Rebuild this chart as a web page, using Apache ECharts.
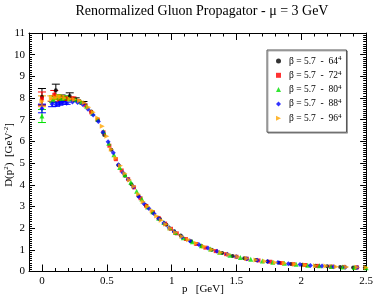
<!DOCTYPE html>
<html><head><meta charset="utf-8">
<script src="https://cdn.jsdelivr.net/npm/echarts@6/dist/echarts.min.js"></script>
<style>html,body{margin:0;padding:0;background:#fff}#c{width:376px;height:295px}</style>
</head><body><div id="c"></div>
<script>
// ---- data ----
const seriesNames = ['β = 5.7  -  64', 'β = 5.7  -  72', 'β = 5.7  -  80', 'β = 5.7  -  88', 'β = 5.7  -  96'];
const xTickLabels = [0, 0.5, 1, 1.5, 2, 2.5];
const yTickLabels = [0,1,2,3,4,5,6,7,8,9,10,11];

const s64 = [[0,8.06],[0.107,8.36],[0.151,8.02],[0.185,7.98],[0.214,8.09],[0.26,7.93],[0.32,7.78],[0.38,7.38],[0.43,6.98],[0.48,6.30],[0.535,5.62],[0.59,4.90],[0.64,4.42],[0.69,4.02],[0.745,3.48],[0.80,3.06],[0.855,2.72],[0.91,2.42],[0.96,2.16],[1.02,1.86],[1.07,1.66],[1.15,1.39],[1.23,1.18],[1.31,1.00],[1.39,0.85],[1.47,0.72],[1.56,0.61],[1.65,0.53],[1.74,0.46],[1.83,0.40],[1.92,0.35],[2.01,0.31],[2.11,0.27],[2.20,0.24],[2.30,0.21],[2.40,0.19],[2.49,0.17]];
const e64 = [0.38,0.28,0.12,0.10,0.15,0.08,0.06];

const s72 = [[0,7.98],[0.095,8.15],[0.134,7.95],[0.165,8.0],[0.19,7.96],[0.235,7.98],[0.285,7.86],[0.335,7.66],[0.38,7.34],[0.43,7.00],[0.475,6.42],[0.52,5.80],[0.57,5.18],[0.615,4.66],[0.665,4.26],[0.71,3.88],[0.76,3.38],[0.805,3.02],[0.855,2.74],[0.9,2.47],[0.95,2.21],[0.995,1.97],[1.04,1.76],[1.11,1.50],[1.19,1.27],[1.26,1.10],[1.34,0.94],[1.42,0.80],[1.5,0.68],[1.58,0.59],[1.67,0.51],[1.76,0.45],[1.85,0.39],[1.94,0.34],[2.03,0.30],[2.13,0.26],[2.23,0.23],[2.33,0.21],[2.43,0.19]];
const e72 = [0.30,0.20,0.10,0.08,0.08,0.07];

const s80 = [[0,7.17],[0.086,7.95],[0.122,8.05],[0.149,7.98],[0.172,8.03],[0.21,7.97],[0.26,7.92],[0.3,7.84],[0.345,7.62],[0.39,7.30],[0.43,7.02],[0.475,6.46],[0.515,5.92],[0.555,5.38],[0.6,4.80],[0.64,4.46],[0.685,4.12],[0.73,3.70],[0.77,3.34],[0.815,2.98],[0.855,2.76],[0.9,2.46],[0.94,2.26],[0.985,2.02],[1.03,1.80],[1.09,1.56],[1.16,1.37],[1.23,1.19],[1.3,1.04],[1.37,0.89],[1.45,0.75],[1.53,0.64],[1.61,0.56],[1.7,0.49],[1.78,0.43],[1.87,0.38],[1.96,0.33],[2.05,0.29],[2.14,0.26],[2.23,0.23],[2.32,0.21],[2.41,0.19],[2.5,0.17]];
const e80 = [0.30,0.15,0.10,0.08,0.07,0.06];

const s88 = [[0,7.52],[0.078,7.72],[0.11,7.70],[0.135,7.74],[0.156,7.78],[0.19,7.76],[0.235,7.82],[0.275,7.80],[0.315,7.70],[0.355,7.48],[0.395,7.22],[0.435,6.92],[0.47,6.42],[0.51,5.98],[0.55,5.48],[0.59,4.92],[0.625,4.56],[0.665,4.24],[0.705,3.90],[0.745,3.46],[0.785,3.14],[0.825,2.90],[0.865,2.66],[0.9,2.44],[0.94,2.24],[0.98,2.02],[1.02,1.82],[1.08,1.59],[1.14,1.42],[1.21,1.24],[1.28,1.08],[1.35,0.93],[1.43,0.79],[1.5,0.68],[1.58,0.59],[1.66,0.52],[1.74,0.46],[1.82,0.41],[1.9,0.36],[1.99,0.32],[2.07,0.28],[2.16,0.25],[2.25,0.22],[2.34,0.20],[2.43,0.18]];
const e88 = [0.20,0.12,0.08,0.07,0.06,0.05];

const s96 = [[0,7.85],[0.072,7.98],[0.102,8.02],[0.125,8.06],[0.144,8.04],[0.176,8.0],[0.215,7.96],[0.25,7.93],[0.29,7.88],[0.325,7.78],[0.36,7.58],[0.395,7.34],[0.43,7.08],[0.465,6.70],[0.5,6.24],[0.535,5.64],[0.57,5.24],[0.605,4.88],[0.64,4.52],[0.675,4.22],[0.71,3.92],[0.745,3.56],[0.78,3.22],[0.815,3.00],[0.85,2.80],[0.885,2.56],[0.92,2.36],[0.955,2.18],[0.99,2.00],[1.03,1.80],[1.08,1.62],[1.13,1.46],[1.19,1.30],[1.25,1.15],[1.31,1.02],[1.38,0.88],[1.44,0.78],[1.51,0.68],[1.58,0.60],[1.65,0.53],[1.72,0.47],[1.8,0.42],[1.87,0.38],[1.95,0.34],[2.03,0.30],[2.11,0.27],[2.19,0.25],[2.27,0.22],[2.35,0.21],[2.43,0.20],[2.5,0.19]];
const e96 = [0.25,0.12,0.10,0.08,0.07,0.06];

// ---- chart ----
const allData = [s64, s72, s80, s88, s96];
const allErr = [e64, e72, e80, e88, e96];
const colors = ['#000000', '#ff0000', '#00e000', '#0000ff', '#ffa500'];
const symbols = ['circle', 'rect', 'triangle', 'diamond', 'triangle'];
const symRot = [0, 0, 0, 0, -90];
const symSize = [4, 4, 5, 5, 5];
const legendIcons = ['circle', 'rect', 'triangle', 'diamond', 'path://M0,0L10,5L0,10Z'];
const FONT = '"Liberation Serif", "DejaVu Serif", serif';

const chart = echarts.init(document.getElementById('c'), null, {renderer: 'canvas'});

const series = [];
allData.forEach((d, i) => {
  const errData = allErr[i].map((e, k) => [d[k][0], d[k][1] - e, d[k][1] + e]);
  series.push({
    type: 'custom', silent: true, z: 3,
    xAxisIndex: 0, yAxisIndex: 0,
    data: errData,
    renderItem: (params, api) => {
      const x = api.value(0);
      const lo = api.coord([x, api.value(1)]);
      const hi = api.coord([x, api.value(2)]);
      const w = 4;
      const st = {stroke: colors[i], lineWidth: 1};
      return {type: 'group', children: [
        {type: 'line', shape: {x1: lo[0], y1: lo[1], x2: hi[0], y2: hi[1]}, style: st},
        {type: 'line', shape: {x1: lo[0]-w, y1: lo[1], x2: lo[0]+w, y2: lo[1]}, style: st},
        {type: 'line', shape: {x1: hi[0]-w, y1: hi[1], x2: hi[0]+w, y2: hi[1]}, style: st}
      ]};
    }
  });
  series.push({
    type: 'scatter', name: seriesNames[i], data: d, z: 4,
    xAxisIndex: 0, yAxisIndex: 0,
    symbol: symbols[i], symbolSize: symSize[i], symbolRotate: symRot[i],
    itemStyle: {color: colors[i]}
  });
});

function xAxis(pos, major) {
  const a = {
    type: 'value', position: pos, min: -0.1, max: 2.5, offset: 0,
    splitLine: {show: false},
    axisLine: {show: major, onZero: false, lineStyle: {color: '#000', width: 1}},
  };
  if (major) {
    a.axisTick = {show: true, inside: true, length: 7, customValues: xTickLabels, lineStyle: {color: '#000'}};
    a.axisLabel = pos === 'bottom' ? {show: true, customValues: xTickLabels, margin: 4, fontFamily: FONT, fontSize: 11, color: '#000', formatter: v => String(v)} : {show: false};
  } else {
    a.interval = 0.1;
    a.axisTick = {show: true, inside: true, length: 3.5, lineStyle: {color: '#000'}};
    a.axisLabel = {show: false};
  }
  return a;
}
function yAxis(pos) {
  return {
    type: 'value', position: pos, min: 0, max: 11, interval: 1, offset: 0,
    splitLine: {show: false},
    axisLine: {show: true, onZero: false, lineStyle: {color: '#000', width: 1}},
    axisTick: {show: true, inside: true, length: 6, lineStyle: {color: '#000'}},
    minorTick: {show: true, splitNumber: 10, length: 3, lineStyle: {color: '#000'}},
    axisLabel: pos === 'left' ? {show: true, margin: 4, fontFamily: FONT, fontSize: 11, color: '#000', customValues: yTickLabels} : {show: false}
  };
}

chart.setOption({
  animation: false,
  backgroundColor: '#fff',
  title: {
    text: 'Renormalized Gluon Propagator - μ = 3 GeV', left: 197, top: -1, textAlign: 'center',
    textStyle: {fontFamily: FONT, fontWeight: 'normal', fontSize: 14, color: '#000'}
  },
  grid: {left: 29, right: 6.5, top: 33, bottom: 23.5, containLabel: false},
  xAxis: [xAxis('bottom', true), xAxis('bottom', false), xAxis('top', true), xAxis('top', false)],
  yAxis: [yAxis('left'), yAxis('right')],
  legend: {
    data: seriesNames.map((n, i) => ({name: n, icon: legendIcons[i]})),
    orient: 'vertical', left: 267, top: 50,
    padding: [5, 5, 8, 9], itemGap: 2.3, itemWidth: 5, itemHeight: 5,
    borderColor: '#555', borderWidth: 1, backgroundColor: '#fff',
    shadowColor: 'rgba(0,0,0,0.3)', shadowOffsetX: 1, shadowOffsetY: 1, shadowBlur: 0,
    selectedMode: false,
    formatter: n => '{a|' + n + '}{s|4}',
    textStyle: {fontFamily: FONT, fontSize: 9.5, color: '#000', lineHeight: 12, padding: [0, 0, 0, 3],
      rich: {a: {fontFamily: FONT, fontSize: 9.5, color: '#000', lineHeight: 12}, s: {fontFamily: FONT, fontSize: 7, color: '#000', verticalAlign: 'top', lineHeight: 12, padding: [0,0,5,0]}}}
  },
  graphic: [
    {type: 'text', left: 182, top: 284, style: {text: 'p   [GeV]', fontFamily: FONT, fontSize: 11, fill: '#000'}},
    {type: 'text', x: 9, y: 155, rotation: Math.PI / 2, style: {
      text: '{a|D(p}{s|2}{a|)  [GeV}{s|-2}{a|]}', align: 'center', verticalAlign: 'middle',
      rich: {a: {fontFamily: FONT, fontSize: 11, fill: '#000'}, s: {fontFamily: FONT, fontSize: 7, fill: '#000', verticalAlign: 'top', padding: [0,0,6,0]}}
    }}
  ],
  series: series
});
</script></body></html>
